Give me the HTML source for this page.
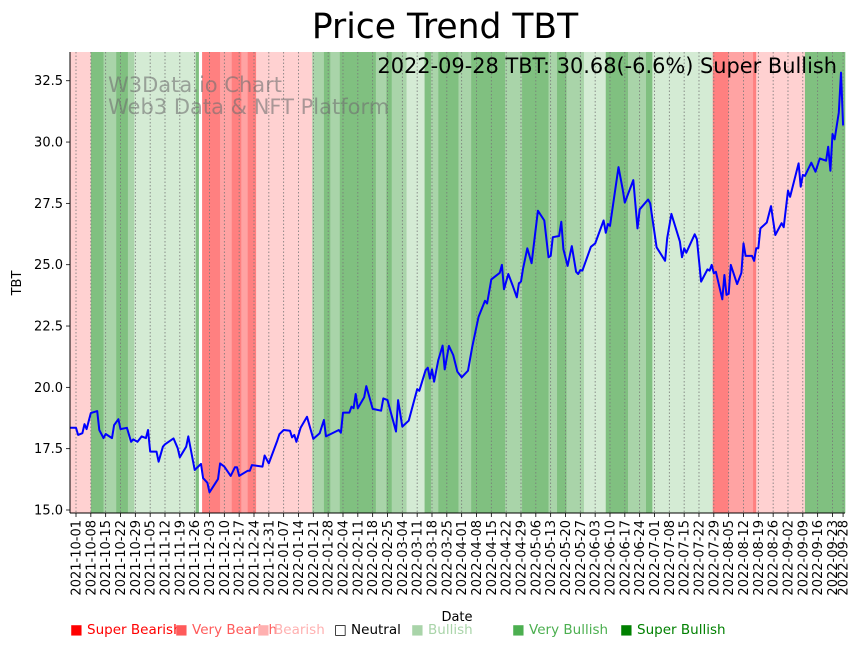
<!DOCTYPE html>
<html><head><meta charset="utf-8">
<style>
html,body{margin:0;padding:0;background:#fff;}
svg{display:block;font-family:"DejaVu Sans","Liberation Sans",sans-serif;}
</style></head>
<body>
<svg id="chart" width="864" height="646" viewBox="0 0 864 646" xmlns="http://www.w3.org/2000/svg">
  <g id="bands"></g>
  <g id="grid"></g>
  <g id="series"></g>
  <g id="axes"></g>
  <text x="445" y="38" text-anchor="middle" font-size="34.5">Price Trend TBT</text>
  <text x="108" y="92" font-size="21" fill="#6f6f6f" fill-opacity="0.6">W3Data.io Chart</text>
  <text x="108" y="114" font-size="21" fill="#6f6f6f" fill-opacity="0.6">Web3 Data &amp; NFT Platform</text>
  <text x="837" y="73" text-anchor="end" font-size="20.9">2022-09-28 TBT: 30.68(-6.6%) Super Bullish</text>
  <text x="21" y="283" text-anchor="middle" font-size="13" transform="rotate(-90 21 283)">TBT</text>
  <text x="457" y="621" text-anchor="middle" font-size="13">Date</text>
  <g id="legend"></g>
</svg>
<script>
const bandStarts=[-3,7,13,19,24.5,27.5,56.5,58,59.5,68,73.5,78,81,85,111.5,117,120,124.5,141.5,146.5,149,156,164.5,167.5,171,180.5,186.5,202.5,210.5,223,227,231.5,239.7,250,260.5,269,272,300.5,308,319.5,321,344];
const bandLevels=["Br","SB","VB","SB","VB","B","SB","N","SBr","VBr","SBr","VBr","SBr","Br","VB","SB","VB","SB","VB","SB","VB","B","SB","VB","SB","VB","SB","VB","SB","VB","SB","VB","B","SB","VB","SB","B","SBr","VBr","SBr","Br","SB"];
const bandEnd=363;
const priceDays=[-3,0,1,3,4,5,7,10,11,13,14,17,18,20,21,24,26,27,29,31,33,34,35,38,39,41,42,46,48,49,52,53,56,59,60,62,63,67,68,70,73,75,76,77,81,82,83,88,89,91,95,96,98,101,102,103,104,106,109,112,115,117,118,124,125,126,129,130,131,132,133,136,137,140,144,145,147,151,152,154,157,161,162,165,166,167,168,169,171,173,174,176,178,180,182,185,187,190,193,194,196,200,201,202,204,206,208,209,210,211,213,215,218,221,223,224,225,228,229,230,232,234,236,237,238,239,243,245,249,250,251,252,256,258,259,263,265,266,270,271,274,278,279,281,285,286,287,288,292,293,295,298,299,300,301,302,305,306,307,308,309,312,314,315,316,319,320,321,322,323,326,328,330,333,334,336,337,341,342,343,344,347,349,351,354,355,356,357,358,360,361,362];
const priceValues=[18.35,18.35,18.06,18.13,18.5,18.3,18.95,19.03,18.26,17.93,18.1,17.93,18.46,18.7,18.3,18.35,17.78,17.88,17.78,18.0,17.93,18.26,17.38,17.38,16.97,17.58,17.68,17.92,17.52,17.15,17.58,18.0,16.63,16.88,16.3,16.11,15.72,16.26,16.9,16.77,16.39,16.74,16.74,16.39,16.6,16.6,16.83,16.77,17.22,16.9,17.83,18.09,18.26,18.23,17.96,18.06,17.78,18.35,18.8,17.9,18.13,18.67,18.0,18.26,18.15,18.97,18.97,19.21,19.15,19.73,19.15,19.6,20.05,19.12,19.05,19.55,19.48,18.2,19.48,18.4,18.64,19.93,19.86,20.7,20.8,20.36,20.73,20.23,21.11,21.7,20.73,21.69,21.32,20.64,20.41,20.68,21.66,22.88,23.53,23.42,24.4,24.67,24.99,24.0,24.62,24.17,23.67,24.24,24.31,24.85,25.67,25.06,27.2,26.8,25.3,25.36,26.12,26.17,26.75,25.63,24.95,25.76,24.71,24.62,24.78,24.76,25.73,25.87,26.8,26.3,26.66,26.58,28.98,28.07,27.53,28.45,26.48,27.26,27.66,27.5,25.71,25.16,26.08,27.07,25.94,25.3,25.67,25.49,26.24,26.04,24.31,24.81,24.76,24.99,24.65,24.71,23.59,24.58,23.77,23.81,24.99,24.21,24.67,25.87,25.36,25.36,25.16,25.67,25.67,26.48,26.72,27.39,26.21,26.69,26.53,28.02,27.77,29.13,28.18,28.66,28.62,29.16,28.79,29.33,29.24,29.81,28.83,30.33,30.11,31.2,32.83,30.68];
const tickDays=[0,7,14,21,28,35,42,49,56,63,70,77,84,91,98,105,112,119,126,133,140,147,154,161,168,175,182,189,196,203,210,217,224,231,238,245,252,259,266,273,280,287,294,301,308,315,322,329,336,343,350,357,362];
const tickLabels=["2021-10-01","2021-10-08","2021-10-15","2021-10-22","2021-10-29","2021-11-05","2021-11-12","2021-11-19","2021-11-26","2021-12-03","2021-12-10","2021-12-17","2021-12-24","2021-12-31","2022-01-07","2022-01-14","2022-01-21","2022-01-28","2022-02-04","2022-02-11","2022-02-18","2022-02-25","2022-03-04","2022-03-11","2022-03-18","2022-03-25","2022-04-01","2022-04-08","2022-04-15","2022-04-22","2022-04-29","2022-05-06","2022-05-13","2022-05-20","2022-05-27","2022-06-03","2022-06-10","2022-06-17","2022-06-24","2022-07-01","2022-07-08","2022-07-15","2022-07-22","2022-07-29","2022-08-05","2022-08-12","2022-08-19","2022-08-26","2022-09-02","2022-09-09","2022-09-16","2022-09-23","2022-09-28"];
const yTicks=[15.0,17.5,20.0,22.5,25.0,27.5,30.0,32.5];
const legendLabels=["Super Bearish","Very Bearish","Bearish","Neutral","Bullish","Very Bullish","Super Bullish"];

const NS="http://www.w3.org/2000/svg";
const PL=70,PR=845,PT=52,PB=513;
const bandColor={SBr:"#ff8080",VBr:"#ffa3a3",Br:"#ffd1d1",N:"#ffffff",B:"#d4ebd4",VB:"#a9d4a9",SB:"#80c080"};
function xs(d){return Math.max(PL,Math.min(PR,76+d*2.119));}
function ys(v){return 510-(v-15)*24.53;}
function mk(tag,attrs,parent){const e=document.createElementNS(NS,tag);for(const k in attrs)e.setAttribute(k,attrs[k]);parent.appendChild(e);return e;}

const gB=document.getElementById('bands');
for(let i=0;i<bandStarts.length;i++){
  const s=bandStarts[i],e=i+1<bandStarts.length?bandStarts[i+1]:bandEnd;
  const r=mk('rect',{x:xs(s),y:PT,width:xs(e)-xs(s)+0.3,height:PB-PT,fill:bandColor[bandLevels[i]]},gB);
  
  
}
const gG=document.getElementById('grid');
const gA=document.getElementById('axes');
for(let i=0;i<tickDays.length;i++){
  const x=xs(tickDays[i]);
  const gl=mk('line',{x1:x,x2:x,y1:PT,y2:PB,stroke:"#777",'stroke-width':0.8,'stroke-dasharray':"1.5,2"},gG);
  
  
  mk('line',{x1:x,x2:x,y1:PB,y2:PB+4,stroke:"#000",'stroke-width':0.8},gA);
  const t=mk('text',{x:x+4.5,y:PB+7,'text-anchor':'end','font-size':13,transform:`rotate(-90 ${x+4.5} ${PB+7})`},gA);
  t.textContent=tickLabels[i];
  
  
}
for(const v of yTicks){
  const y=ys(v);
  mk('line',{x1:PL-4,x2:PL,y1:y,y2:y,stroke:"#000",'stroke-width':0.8},gA);
  const t=mk('text',{x:PL-7,y:y+4.5,'text-anchor':'end','font-size':13},gA);
  t.textContent=v.toFixed(1);
  
  
}
mk('line',{x1:PL,x2:PL,y1:PT,y2:PB,stroke:"#000",'stroke-width':1},gA);
mk('line',{x1:PL,x2:PR,y1:PB,y2:PB,stroke:"#000",'stroke-width':1},gA);

const gS=document.getElementById('series');
const pts=priceDays.map((d,i)=>xs(d).toFixed(1)+","+ys(priceValues[i]).toFixed(1)).join(" ");
const pl=mk('polyline',{points:pts,fill:"none",stroke:"#0000ff",'stroke-width':2,'stroke-linejoin':'round'},gS);



const gL=document.getElementById('legend');
const legX=[70,175,257,334,411,512,620];
const legColor=["#ff0000","#ff5a5a","#ffb0b0","#000000","#a9d4a9","#4caf50","#008000"];
for(let i=0;i<legendLabels.length;i++){
  const t=mk('text',{x:legX[i],y:634,'font-size':13.5,fill:legColor[i]},gL);
  t.textContent=(i===3?"□ ":"■ ")+legendLabels[i];
  
  
}
</script>
</body></html>
